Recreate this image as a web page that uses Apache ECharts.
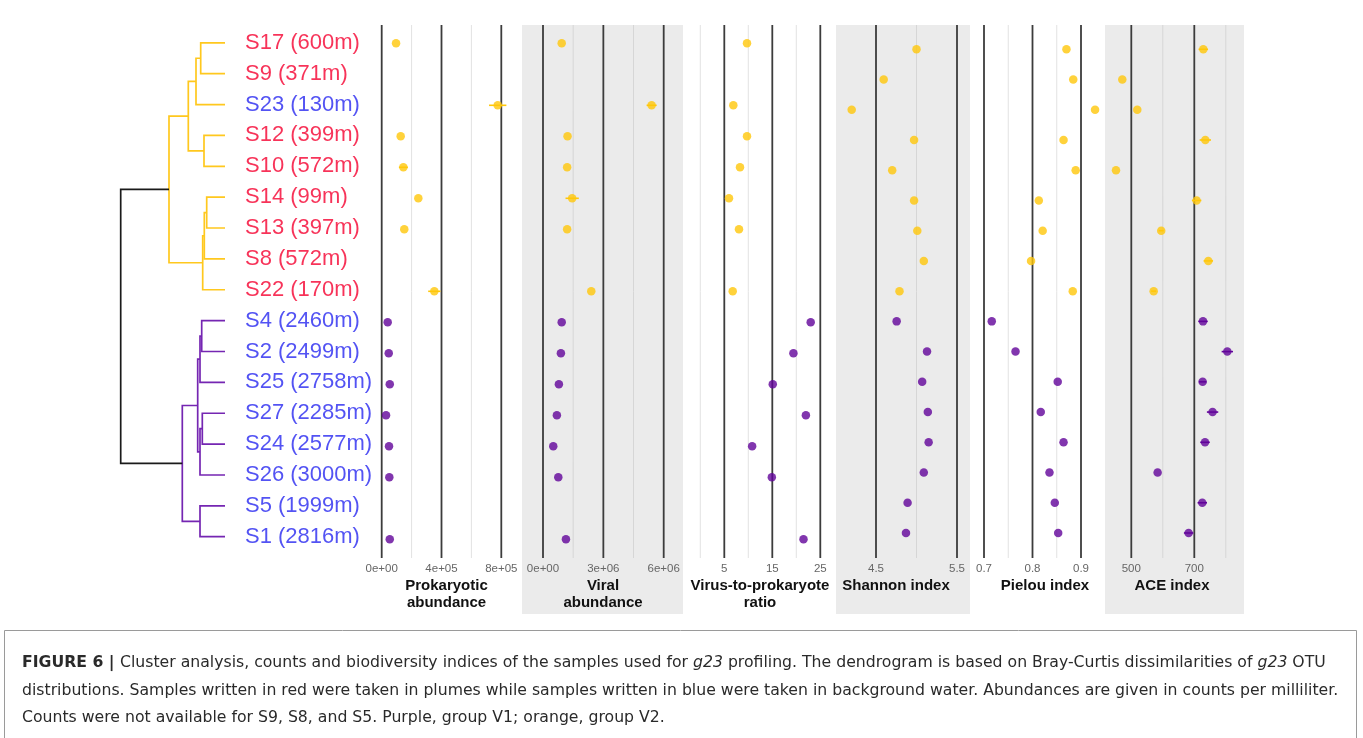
<!DOCTYPE html>
<html><head><meta charset="utf-8">
<script src="https://cdn.jsdelivr.net/npm/echarts@6/dist/echarts.min.js"></script>
<style>html,body{margin:0;padding:0;background:#fff}#c{width:1363px;height:738px}</style>
</head><body><div id="c"></div>
<script>
// ---------------- DATA ----------------
const samples = ['S17','S9','S23','S12','S10','S14','S13','S8','S22','S4','S2','S25','S27','S24','S26','S5','S1'];
const depths  = ['600m','371m','130m','399m','572m','99m','397m','572m','170m','2460m','2499m','2758m','2285m','2577m','3000m','1999m','2816m'];
const sampleType = ['plume','plume','background','plume','plume','plume','plume','plume','plume',
  'background','background','background','background','background','background','background','background'];
const group = ['V2','V2','V2','V2','V2','V2','V2','V2','V2','V1','V1','V1','V1','V1','V1','V1','V1'];

const prokaryotic    = [9.6e4, null, 7.76e5, 1.27e5, 1.45e5, 2.45e5, 1.51e5, null, 3.52e5, 4.0e4, 4.7e4, 5.4e4, 2.9e4, 4.9e4, 5.1e4, null, 5.4e4];
const prokaryoticErr = [0, null, 5.8e4, 0, 3.0e4, 0, 0, null, 4.1e4, 0, 0, 0, 0, 0, 0, null, 0];
const viral          = [9.3e5, null, 5.4e6, 1.22e6, 1.2e6, 1.45e6, 1.2e6, null, 2.4e6, 9.3e5, 8.9e5, 7.9e5, 6.9e5, 5.1e5, 7.6e5, null, 1.14e6];
const viralErr       = [0, null, 2.5e5, 0, 0, 3.3e5, 0, null, 0, 0, 0, 0, 0, 0, 0, null, 0];
const vpr            = [9.73, null, 6.88, 9.73, 8.27, 5.98, 8.06, null, 6.75, 23.0, 19.4, 15.1, 22.0, 10.8, 14.9, null, 21.5];
const shannon        = [5.00, 4.595, 4.20, 4.97, 4.70, 4.97, 5.01, 5.09, 4.79, 4.755, 5.13, 5.07, 5.14, 5.15, 5.09, 4.89, 4.87];
const pielou         = [0.870, 0.884, 0.929, 0.864, 0.889, 0.813, 0.821, 0.797, 0.883, 0.716, 0.765, 0.852, 0.817, 0.864, 0.835, 0.846, 0.853];
const ace            = [728.6, 471.4, 519, 735, 451.4, 707.4, 595, 744.5, 571, 727.6, 804.8, 726.5, 758, 734, 583.6, 725.4, 682];
const aceErr         = [15, 0, 0, 18, 0, 15, 8, 15, 8, 15, 18, 12, 18, 15, 0, 15, 15];

const prokTicks = [0, 4e5, 8e5];        const prokTickLabels = ['0e+00','4e+05','8e+05'];  const prokMinor = [2e5, 6e5];
const viralTicks = [0, 3e6, 6e6];       const viralTickLabels = ['0e+00','3e+06','6e+06']; const viralMinor = [1.5e6, 4.5e6];
const vprTicks = [5, 15, 25];           const vprTickLabels = ['5','15','25'];             const vprMinor = [0, 10, 20];
const shannonTicks = [4.5, 5.5];        const shannonTickLabels = ['4.5','5.5'];           const shannonMinor = [5.0];
const pielouTicks = [0.7, 0.8, 0.9];    const pielouTickLabels = ['0.7','0.8','0.9'];      const pielouMinor = [0.75, 0.85];
const aceTicks = [500, 700];            const aceTickLabels = ['500','700'];               const aceMinor = [600, 800];

const panelTitles = ['Prokaryotic\nabundance','Viral\nabundance','Virus-to-prokaryote\nratio','Shannon index','Pielou index','ACE index'];

// dendrogram merges: [childA, childB, height]; strings = leaves, numbers = earlier merge index
const merges = [
  ['S17','S9',0.1215], [0,'S23',0.145], ['S12','S10',0.105], [1,2,0.1835],
  ['S14','S13',0.0915], [4,'S8',0.1035], [5,'S22',0.1115], [3,6,0.28],
  ['S4','S2',0.1165], [8,'S25',0.125], ['S27','S24',0.1135], [10,'S26',0.125],
  [9,11,0.1365], ['S5','S1',0.125], [12,13,0.2135], [7,14,0.5215]
];

const captionLines = [
  [['b','FIGURE 6 | '],['n','Cluster analysis, counts and biodiversity indices of the samples used for '],['i','g23'],['n',' profiling. The dendrogram is based on Bray-Curtis dissimilarities of '],['i','g23'],['n',' OTU']],
  [['n','distributions. Samples written in red were taken in plumes while samples written in blue were taken in background water. Abundances are given in counts per milliliter.']],
  [['n','Counts were not available for S9, S8, and S5. Purple, group V1; orange, group V2.']]
];

// ---------------- LAYOUT / STYLE ----------------
const FONT = "'Liberation Sans', Arial, Helvetica, sans-serif";
const CFONT = "'DejaVu Sans', 'Liberation Sans', sans-serif";
const COL = {V2:'#FFC70A', V1:'#62049A', root:'#1a1a1a', plume:'#F5002F', background:'#2828F0'};
const DCOL = {V2:'#FFC81E', V1:'#7526B2', root:'#1a1a1a'};
const PTOP = 25, PBOT = 558;
const rowGeom = {labels:{y0:42.8, step:30.87}, L:{y0:43.3, step:31.0}, R:{y0:49.3, step:30.23}};
const panelLayout = [
  {left:376, right:516, v0:0,   x0:381.7, v1:8e5, x1:501.3, rows:'L', titleX:446.5, bg:null},
  {left:527, right:678, v0:0,   x0:543,   v1:6e6, x1:663.7, rows:'L', titleX:603,   bg:[522,683]},
  {left:690, right:831, v0:5,   x0:724.3, v1:25,  x1:820.3, rows:'L', titleX:760,   bg:null},
  {left:840, right:966, v0:4.5, x0:876,   v1:5.5, x1:957,   rows:'R', titleX:896,   bg:[836,970]},
  {left:975, right:1100,v0:0.7, x0:984,   v1:0.9, x1:1081,  rows:'R', titleX:1045,  bg:null},
  {left:1108,right:1240,v0:500, x0:1131.3,v1:700, x1:1194.3,rows:'R', titleX:1172,  bg:[1105,1244]}
];
const panelData = [
  {vals:prokaryotic, err:prokaryoticErr, ticks:prokTicks, labels:prokTickLabels, minor:prokMinor},
  {vals:viral, err:viralErr, ticks:viralTicks, labels:viralTickLabels, minor:viralMinor},
  {vals:vpr, err:null, ticks:vprTicks, labels:vprTickLabels, minor:vprMinor},
  {vals:shannon, err:null, ticks:shannonTicks, labels:shannonTickLabels, minor:shannonMinor},
  {vals:pielou, err:null, ticks:pielouTicks, labels:pielouTickLabels, minor:pielouMinor},
  {vals:ace, err:aceErr, ticks:aceTicks, labels:aceTickLabels, minor:aceMinor}
];

// ---------------- BUILD ----------------
const grids=[], xAxes=[], yAxes=[], series=[], graphics=[];
function yRange(g){ return {min:(PTOP-g.y0)/g.step, max:(PBOT-g.y0)/g.step}; }

// grey backgrounds
panelLayout.forEach(p=>{ if(p.bg) graphics.push({type:'rect', z:-10, silent:true,
  shape:{x:p.bg[0], y:PTOP, width:p.bg[1]-p.bg[0], height:614-PTOP}, style:{fill:'#EBEBEB'}}); });

// dendrogram grid
const DLEFT=110, DRIGHT=225, DSCALE=200;
grids.push({left:DLEFT, top:PTOP, width:DRIGHT-DLEFT, height:PBOT-PTOP});
xAxes.push({type:'value', gridIndex:0, inverse:true, min:0, max:(DRIGHT-DLEFT)/DSCALE, show:false});
const yl = yRange(rowGeom.labels);
yAxes.push({type:'value', gridIndex:0, inverse:true, min:yl.min, max:yl.max, show:false});

const nodeInfo = [];
function childInfo(c){
  if (typeof c === 'string'){ const i = samples.indexOf(c); return {y:i, h:0, group:group[i]}; }
  return nodeInfo[c];
}
const dendro = merges.map((m,k)=>{
  const a = childInfo(m[0]), b = childInfo(m[1]);
  const g = a.group===b.group ? a.group : 'root';
  nodeInfo[k] = {y:(a.y+b.y)/2, h:m[2], group:g};
  return {h:m[2], ya:a.y, yb:b.y, ha:a.h, hb:b.h, g:g};
});
series.push({type:'custom', xAxisIndex:0, yAxisIndex:0, silent:true, animation:false, clip:false,
  data: dendro.map(d=>[d.h, (d.ya+d.yb)/2]),
  renderItem:(params, api)=>{
    const d = dendro[params.dataIndex];
    const pts = [api.coord([d.ha,d.ya]), api.coord([d.h,d.ya]), api.coord([d.h,d.yb]), api.coord([d.hb,d.yb])];
    return {type:'polyline', shape:{points:pts}, style:{stroke:DCOL[d.g], lineWidth:1.7, fill:null}};
  }});
series.push({type:'scatter', xAxisIndex:0, yAxisIndex:0, silent:true, animation:false, symbolSize:0,
  data: samples.map((s,i)=>({value:[0,i], label:{color:COL[sampleType[i]]}})),
  label:{show:true, position:'right', distance:20, fontSize:22, fontFamily:FONT,
    formatter:(p)=>samples[p.dataIndex]+' ('+depths[p.dataIndex]+')'}});

// panels
panelLayout.forEach((p,k)=>{
  const d = panelData[k];
  const gi = k+1;
  const s = (p.x1-p.x0)/(p.v1-p.v0);
  const min = p.v0 + (p.left - p.x0)/s, max = p.v0 + (p.right - p.x0)/s;
  const g = rowGeom[p.rows]; const yr = yRange(g);
  grids.push({left:p.left, top:PTOP, width:p.right-p.left, height:PBOT-PTOP});
  xAxes.push({type:'value', gridIndex:gi, min:min, max:max, axisLine:{show:false}, axisTick:{show:false}, splitLine:{show:false},
    axisLabel:{customValues:d.ticks, formatter:(v)=>{ const i=d.ticks.findIndex(t=>Math.abs(t-v)<1e-9*Math.max(1,Math.abs(t))); return i>=0?d.labels[i]:''; },
      margin:5, fontSize:11.5, color:'#666', fontFamily:FONT}});
  yAxes.push({type:'value', gridIndex:gi, inverse:true, min:yr.min, max:yr.max, show:false});
  // gridlines
  const gl = d.minor.map(v=>[v,0]).concat(d.ticks.map(v=>[v,1]));
  series.push({type:'custom', xAxisIndex:gi, yAxisIndex:gi, silent:true, animation:false, z:1, clip:true,
    data: gl.map(a=>[a[0], 0, a[1]]),
    renderItem:(params, api)=>{
      const x = api.coord([api.value(0), 0])[0];
      const cs = params.coordSys; const major = api.value(2)===1;
      return {type:'line', shape:{x1:x, y1:cs.y, x2:x, y2:cs.y+cs.height},
        style:{stroke: major?'#3c3c3c':(p.bg?'#d6d6d6':'#e2e2e2'), lineWidth: major?1.8:1}};
    }});
  // error bars
  if (d.err){
    const ed = [];
    d.vals.forEach((v,i)=>{ if(v!=null && d.err[i]>0) ed.push([v, i, d.err[i], group[i]==='V1'?1:2]); });
    series.push({type:'custom', xAxisIndex:gi, yAxisIndex:gi, silent:true, animation:false, z:3,
      data: ed,
      renderItem:(params, api)=>{
        const v=api.value(0), r=api.value(1), e=api.value(2);
        const a=api.coord([v-e,r]), b=api.coord([v+e,r]);
        return {type:'line', shape:{x1:a[0],y1:a[1],x2:b[0],y2:b[1]},
          style:{stroke: api.value(3)===1?COL.V1:COL.V2, lineWidth:1.6}};
      }});
  }
  // points
  series.push({type:'scatter', xAxisIndex:gi, yAxisIndex:gi, silent:true, animation:false, z:4, symbolSize:8.5,
    data: d.vals.map((v,i)=> v==null?null:{value:[v,i], itemStyle:{color:COL[group[i]]}}).filter(x=>x)});
  // title
  graphics.push({type:'text', silent:true, x:p.titleX, y:577, style:{text:panelTitles[k], font:'bold 15px '+FONT,
    fill:'#111', align:'center', verticalAlign:'top', lineHeight:17}});
});

// caption
const CSIZE = '15.7px ';
const rich = {
  b:{font:'bold '+CSIZE+CFONT, fill:'#2a2a2a'},
  n:{font:CSIZE+CFONT, fill:'#2a2a2a'},
  i:{font:'italic '+CSIZE+CFONT, fill:'#2a2a2a'}
};
captionLines.forEach((line,k)=>{
  graphics.push({type:'text', silent:true, x:22, y:663+k*27.5, style:{
    text: line.map(seg=>'{'+seg[0]+'|'+seg[1]+'}').join(''), rich:rich, verticalAlign:'middle', align:'left'}});
});
graphics.push({type:'rect', silent:true, z:-20, shape:{x:4.5, y:630.5, width:1352, height:110},
  style:{fill:'none', stroke:'#9a9a9a', lineWidth:1}});

const chart = echarts.init(document.getElementById('c'));
chart.setOption({animation:false, backgroundColor:'#fff', grid:grids, xAxis:xAxes, yAxis:yAxes, series:series, graphic:graphics});
</script></body></html>
